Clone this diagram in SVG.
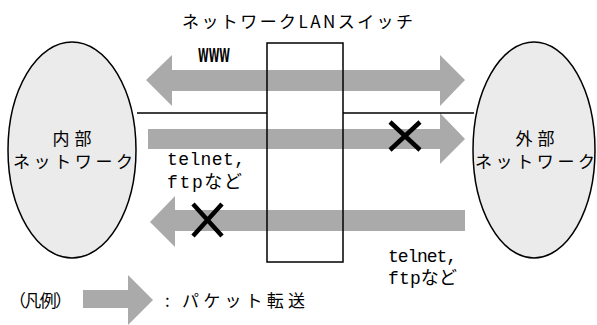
<svg xmlns="http://www.w3.org/2000/svg" width="597" height="325" viewBox="0 0 597 325">
<style>
.jp{font-family:"Noto Sans CJK JP","Liberation Sans",sans-serif;font-size:17px;fill:#000}
.mono{font-family:"Liberation Mono","Noto Sans CJK JP",monospace;font-size:18px;fill:#000}
.net{fill:#ebebeb;stroke:#000;stroke-width:1.5}
.arr{fill:#aaaaaa}
.x{stroke:#000;stroke-width:4.5;fill:none}
.ln{stroke:#000;stroke-width:1.5;fill:none}
</style>
<rect width="597" height="325" fill="#fff"/>
<g id="connectors">
<polygon class="arr" points="146,80 172,55 172,70 440,70 440,55 465,80 440,106 440,91 172,91 172,106"/>
<polygon class="arr" points="148,129 440,129 440,113 465,139 440,164 440,149 148,149"/>
<polygon class="arr" points="150,222 175,196 175,210 465,210 465,231 175,231 175,247"/>
<line class="ln" x1="137" y1="113" x2="267" y2="113"/>
<line class="ln" x1="343" y1="113" x2="474" y2="113"/>
<path class="x" d="M390,122 L420,150 M420,122 L390,150"/>
<path class="x" d="M193,204 L222,236 M222,204 L193,236"/>
</g>
<g id="internal">
<ellipse class="net" cx="72" cy="150" rx="64" ry="108"/>
<text class="jp" x="72" y="145" text-anchor="middle" textLength="39" lengthAdjust="spacing">内部</text>
<text class="jp" x="73" y="168" text-anchor="middle" textLength="120" lengthAdjust="spacing">ネットワーク</text>
</g>
<g id="external">
<ellipse class="net" cx="534" cy="150" rx="61" ry="108"/>
<text class="jp" x="535" y="145" text-anchor="middle" textLength="39" lengthAdjust="spacing">外部</text>
<text class="jp" x="535" y="168" text-anchor="middle" textLength="120" lengthAdjust="spacing">ネットワーク</text>
</g>
<g id="switch">
<rect class="ln" x="267" y="43" width="76" height="219"/>
<text class="jp" x="182" y="28" textLength="231" lengthAdjust="spacing">ネットワークLANスイッチ</text>
</g>
<g id="labels">
<text x="198" y="62" font-family="'Liberation Sans Narrow','DejaVu Sans Condensed',sans-serif" font-size="19" font-weight="bold" textLength="32" lengthAdjust="spacingAndGlyphs">WWW</text>
<text class="mono" x="167" y="165" textLength="78" lengthAdjust="spacing">telnet,</text>
<text class="mono" x="167" y="188" textLength="75" lengthAdjust="spacing">ftpなど</text>
<text class="mono" x="388" y="262" textLength="69" lengthAdjust="spacing">telnet,</text>
<text class="mono" x="388" y="284" textLength="69" lengthAdjust="spacing">ftpなど</text>
</g>
<g id="legend">
<text class="jp" x="9" y="307" textLength="63" lengthAdjust="spacing">（凡例）</text>
<polygon class="arr" points="83,290 128,290 128,275 153,300 128,325 128,308 83,308"/>
<text class="jp" x="165" y="307" textLength="140" lengthAdjust="spacing">: パケット転送</text>
</g>
</svg>
